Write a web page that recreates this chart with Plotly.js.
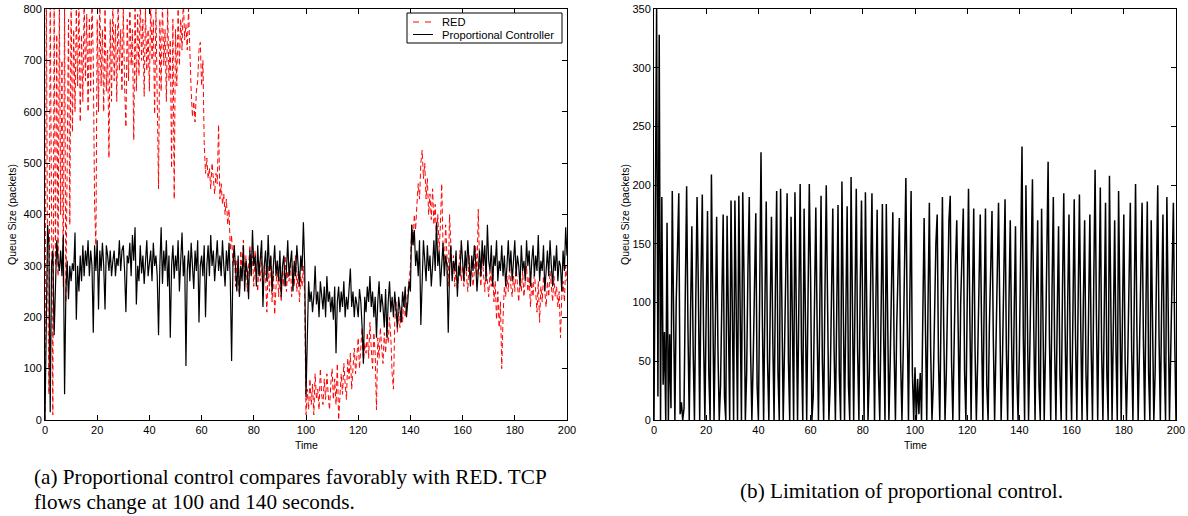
<!DOCTYPE html>
<html>
<head>
<meta charset="utf-8">
<script src="https://cdn.plot.ly/plotly-3.0.1.min.js"></script>
<style>
html,body{margin:0;padding:0;background:#fff;}
#chart{width:1188px;height:516px;}
</style>
</head>
<body>
<div id="chart"></div>
<script>
// ---------- DATA ----------
// Left panel: queue size (packets) sampled every 0.5 s from 0 to 200 s
const sampleStep = 0.5;
const redQueue = [
0,850,300,50,820,400,10,820,300,750,280,820,400,700,260,820,230,500,780,380,
820,560,760,600,800,650,820,580,750,620,820,660,790,600,780,640,820,700,420,340,
780,600,820,650,760,600,800,640,720,510,780,620,820,660,770,620,820,680,760,640,
800,650,570,780,660,820,690,760,545,800,640,790,670,820,700,780,630,800,680,760,
640,820,700,780,595,800,660,450,780,640,820,690,760,620,800,660,740,490,780,430,
760,650,800,690,780,720,820,740,770,720,800,700,640,590,620,580,640,660,720,735,
650,700,540,480,510,470,490,450,500,470,440,480,460,575,430,460,420,440,400,430,
380,410,330,360,300,340,260,310,280,240,330,290,350,270,320,250,300,340,280,320,
260,330,290,250,310,270,320,240,300,280,210,300,250,320,230,290,205,270,310,240,
280,230,300,260,320,250,290,270,310,240,300,260,320,250,290,230,280,260,300,240,
10,60,20,80,30,70,10,90,40,60,20,100,50,30,80,40,90,50,20,70,
100,40,80,30,110,0,60,90,50,110,70,40,120,80,130,60,100,140,90,120,
160,100,140,180,110,150,130,170,120,190,140,100,170,130,20,160,120,180,140,110,
170,130,180,150,200,160,90,60,190,230,170,210,180,220,190,240,200,230,250,270,
300,380,340,400,370,420,460,430,500,525,470,500,430,470,400,440,390,450,380,420,
350,400,330,380,460,340,300,380,320,260,400,340,280,320,260,300,250,290,330,270,
300,260,310,280,250,320,270,300,260,290,340,280,410,300,260,320,280,250,300,270,
240,290,260,300,230,270,195,250,180,230,100,200,260,240,280,250,300,260,240,280,
250,300,260,230,280,250,290,240,270,300,250,280,220,270,240,290,250,210,270,190,
260,230,280,250,220,270,240,290,250,230,280,240,260,220,250,160,240,270,230,300,
270
];
const propQueue = [
0,250,380,340,15,300,330,165,280,350,310,290,330,280,360,50,250,310,235,300,
270,305,290,365,195,300,250,320,270,340,280,330,300,350,280,330,300,170,340,290,
350,215,330,290,345,300,215,340,320,290,330,280,310,330,280,315,300,350,290,330,
340,290,210,320,305,345,280,360,310,375,225,300,270,340,285,320,265,300,350,280,
310,330,270,345,300,320,280,165,300,375,265,330,290,350,260,320,160,300,340,275,
320,290,350,250,310,365,280,320,105,290,330,270,345,300,255,330,290,350,190,300,
320,280,340,200,300,340,280,360,300,330,270,310,350,290,320,280,350,300,260,330,
290,345,270,115,300,340,280,250,320,240,300,270,340,250,310,290,235,330,280,370,
300,320,260,340,280,310,350,220,300,330,270,360,290,320,250,300,340,280,310,270,
330,240,300,320,260,290,350,280,300,330,250,310,280,340,300,260,320,290,385,300,
45,200,270,230,250,210,240,300,225,250,200,270,235,215,260,200,280,230,250,210,
240,195,260,130,230,260,210,250,220,270,200,240,215,260,295,220,250,200,240,225,
200,255,230,180,110,240,210,260,230,280,220,250,200,240,160,230,270,210,245,220,
180,255,160,230,270,210,240,200,250,215,180,240,210,190,250,220,260,200,230,270,
250,380,340,370,300,330,280,350,185,300,350,310,270,340,290,320,260,300,350,290,
385,300,330,260,310,345,280,320,300,170,290,340,270,310,290,330,240,300,280,350,
310,270,330,290,350,300,260,320,290,340,310,250,300,330,280,350,300,340,270,380,
310,290,340,260,320,300,350,270,310,290,340,280,320,260,300,350,290,330,270,310,
350,280,320,300,260,340,290,310,270,350,300,330,260,310,340,280,320,290,360,270,
310,290,340,250,300,330,280,350,300,260,320,290,340,270,310,300,250,330,290,375,
320
];
// Right panel: queue size (packets) under the proportional controller, every 0.5 s
const limitQueue = [
0,180,350,20,328,0,190,30,75,0,168,0,73,10,195,90,0,100,150,193,
5,15,0,10,110,199,80,0,90,165,60,0,100,190,110,0,120,192,70,0,
95,178,40,0,209,100,0,80,173,60,0,30,110,175,20,0,174,90,0,187,
70,0,187,100,0,191,80,0,194,120,0,40,130,190,60,0,50,120,176,30,
0,110,228,90,0,100,186,50,0,90,173,70,0,110,195,40,0,197,100,0,
60,140,193,50,0,173,80,0,194,110,0,100,201,60,0,180,90,0,100,201,
120,0,20,110,181,80,0,90,191,50,0,110,200,100,0,30,120,180,60,0,
90,183,40,0,203,110,0,90,182,30,0,207,100,0,100,197,60,0,110,187,
80,0,194,100,0,40,120,193,90,0,100,179,40,0,90,184,70,0,184,110,
0,50,120,177,60,0,80,140,172,50,0,60,130,206,90,0,100,195,40,0,
45,0,35,5,40,0,90,172,80,0,100,185,60,0,30,110,150,175,50,0,
100,190,80,0,40,120,170,191,50,0,70,130,170,60,0,100,140,180,40,0,
100,197,90,0,100,180,60,0,50,120,175,80,0,100,180,30,0,80,130,178,
70,0,60,120,185,90,0,50,130,188,60,0,100,170,70,0,90,165,40,0,
60,140,233,70,0,200,100,0,60,140,205,80,0,100,170,30,0,180,100,0,
60,140,220,70,0,110,190,60,0,90,165,40,0,110,193,80,0,100,175,50,
0,90,188,70,0,100,192,80,0,100,170,40,0,90,175,60,0,120,213,90,
0,100,198,60,0,90,185,40,0,208,100,0,80,170,60,0,195,100,0,90,
175,50,0,50,120,185,60,0,100,201,80,0,60,130,185,70,0,100,186,40,
0,170,90,0,40,120,200,70,0,100,175,50,0,190,90,0,60,130,185,70,
0
];
const xTicks = [0, 20, 40, 60, 80, 100, 120, 140, 160, 180, 200];
const leftYTicks = [0, 100, 200, 300, 400, 500, 600, 700, 800];
const rightYTicks = [0, 50, 100, 150, 200, 250, 300, 350];
const seriesNames = ["RED", "Proportional Controller"];
const axisTitleX = "Time";
const axisTitleY = "Queue Size (packets)";
const captionA1 = "(a) Proportional control compares favorably with RED. TCP";
const captionA2 = "flows change at 100 and 140 seconds.";
const captionB = "(b) Limitation of proportional control.";

// ---------- BUILD ----------
const W = 1188, H = 516;
const timeA = redQueue.map((_, i) => i * sampleStep);
const timeB = limitQueue.map((_, i) => i * sampleStep);
const px = x => x / W;
const py = y => 1 - y / H;

const traces = [
  {x: timeA, y: redQueue, type: 'scatter', mode: 'lines', name: seriesNames[0],
   xaxis: 'x', yaxis: 'y', line: {color: '#ff0000', width: 1, dash: '5px,3px'}},
  {x: timeA, y: propQueue, type: 'scatter', mode: 'lines', name: seriesNames[1],
   xaxis: 'x', yaxis: 'y', line: {color: '#000000', width: 1.2}},
  {x: timeB, y: limitQueue, type: 'scatter', mode: 'lines',
   xaxis: 'x2', yaxis: 'y2', line: {color: '#000000', width: 1.5}}
];

const sans = 'Liberation Sans, Arial, sans-serif';
const serif = 'Liberation Serif, Times New Roman, serif';
const tickFont = {family: sans, size: 11, color: '#000'};
function axisBase(extra) {
  return Object.assign({
    showline: true, linecolor: '#000', linewidth: 1, mirror: 'ticks',
    ticks: 'inside', ticklen: 5, tickwidth: 1, tickcolor: '#000',
    showgrid: false, zeroline: false, tickfont: tickFont, fixedrange: true
  }, extra);
}

// compact legend box (drawn as layout decoration, like the MATLAB legend)
const legendShapes = [
  {type: 'rect', xref: 'paper', yref: 'paper', x0: px(407), x1: px(562), y0: py(43), y1: py(13),
   line: {color: '#000', width: 1}, fillcolor: '#fff', layer: 'above'},
  {type: 'line', xref: 'paper', yref: 'paper', x0: px(413), x1: px(434), y0: py(22), y1: py(22),
   line: {color: '#ff0000', width: 1, dash: '6px,6px'}, layer: 'above'},
  {type: 'line', xref: 'paper', yref: 'paper', x0: px(413), x1: px(433), y0: py(34.5), y1: py(34.5),
   line: {color: '#000', width: 1}, layer: 'above'}
];

const yDom = [1 - 420 / H, 1 - 9 / H];
const ann = (text, x, y, opts) => Object.assign({
  text: text, xref: 'paper', yref: 'paper', x: px(x), y: py(y),
  xanchor: 'center', yanchor: 'middle', showarrow: false,
  font: {family: sans, size: 10.5, color: '#000'}
}, opts || {});

const legendFont = {family: sans, size: 11.2, color: '#000'};
const layout = {
  width: W, height: H,
  margin: {l: 0, r: 0, t: 0, b: 0},
  paper_bgcolor: '#fff', plot_bgcolor: '#fff',
  showlegend: false,
  xaxis: axisBase({domain: [px(45), px(567)], range: [0, 200], tickvals: xTicks, anchor: 'y'}),
  yaxis: axisBase({domain: yDom, range: [0, 800], tickvals: leftYTicks, anchor: 'x'}),
  xaxis2: axisBase({domain: [px(654), px(1176)], range: [0, 200], tickvals: xTicks, anchor: 'y2'}),
  yaxis2: axisBase({domain: yDom, range: [0, 350], tickvals: rightYTicks, anchor: 'x2'}),
  shapes: legendShapes,
  annotations: [
    ann(seriesNames[0], 440, 22, {xanchor: 'left', font: legendFont}),
    ann(seriesNames[1], 440, 35, {xanchor: 'left', font: legendFont}),
    ann(axisTitleX, 306, 445),
    ann(axisTitleX, 915, 445),
    ann(axisTitleY, 12, 215, {textangle: -90}),
    ann(axisTitleY, 625, 215, {textangle: -90}),
    ann(captionA1, 32, 477, {xanchor: 'left', font: {family: serif, size: 21.2, color: '#000'}}),
    ann(captionA2, 32, 502, {xanchor: 'left', font: {family: serif, size: 21.2, color: '#000'}}),
    ann(captionB, 901, 491, {font: {family: serif, size: 21.2, color: '#000'}})
  ]
};

Plotly.newPlot('chart', traces, layout, {staticPlot: true, displayModeBar: false});
</script>
</body>
</html>
